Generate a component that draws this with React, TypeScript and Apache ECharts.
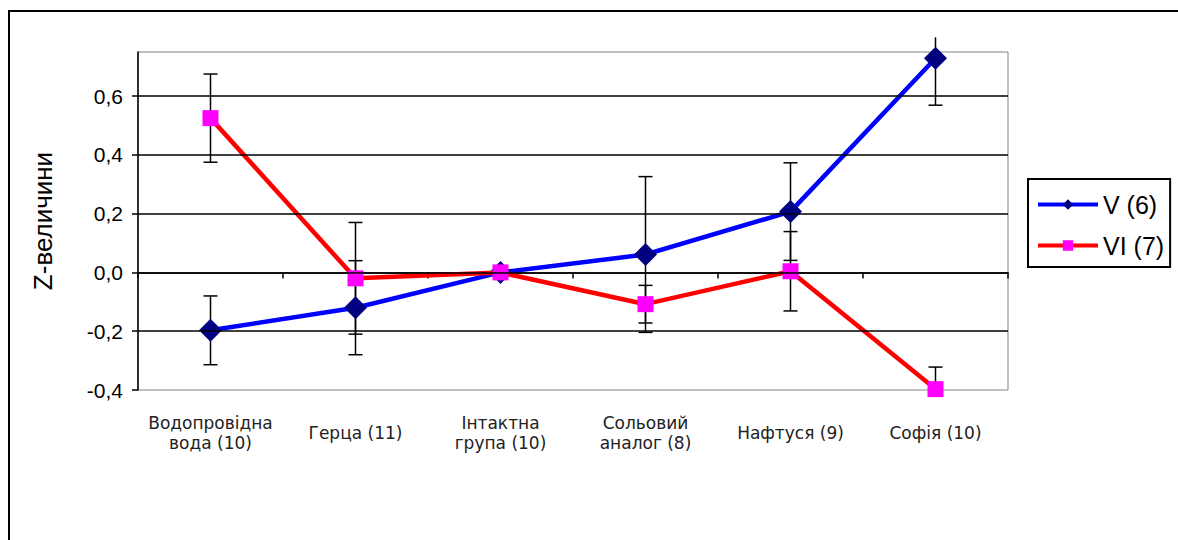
import React, { useEffect, useRef } from "react";
import * as echarts from "echarts";

const categories = [
  "Водопровідна\nвода (10)",
  "Герца (11)",
  "Інтактна\nгрупа (10)",
  "Сольовий\nаналог (8)",
  "Нафтуся (9)",
  "Софія (10)",
];
const seriesNames = ["V (6)", "VI (7)"];
const vValues = [-0.197, -0.12, 0, 0.061, 0.207, 0.729];
const vErrors = [0.117, 0.16, 0, 0.265, 0.166, 0.16];
const viValues = [0.525, -0.02, 0, -0.108, 0.004, -0.397];
const viErrors = [0.15, 0.19, 0, 0.064, 0.135, 0.075];
const yTicks = [-0.4, -0.2, 0, 0.2, 0.4, 0.6];
const yMin = -0.4;
const yMax = 0.75;
const errorClipTop = 0.8;

function errorData(values: number[], errs: number[]) {
  return values.map((v, i) => [i, v - errs[i], v + errs[i]]);
}

export default function App() {
  const ref = useRef<HTMLDivElement>(null);
  useEffect(() => {
    if (!ref.current) return;
    const chart = echarts.init(ref.current, null, { renderer: "svg" });

    const renderErr = (params: any, api: any) => {
      const idx = api.value(0);
      const lowV = api.value(1);
      const highV = api.value(2);
      if (highV - lowV < 1e-6) return { type: "group", children: [] };
      const lo = Math.max(lowV, yMin);
      const hi = Math.min(highV, errorClipTop);
      const pLo = api.coord([idx, lo]);
      const pHi = api.coord([idx, hi]);
      const x = pLo[0];
      const cap = 7;
      const style = { stroke: "#000", lineWidth: 1.5 };
      const children: any[] = [
        { type: "line", shape: { x1: x, y1: pLo[1], x2: x, y2: pHi[1] }, style },
      ];
      if (lowV >= yMin)
        children.push({ type: "line", shape: { x1: x - cap, y1: pLo[1], x2: x + cap, y2: pLo[1] }, style });
      if (highV <= errorClipTop)
        children.push({ type: "line", shape: { x1: x - cap, y1: pHi[1], x2: x + cap, y2: pHi[1] }, style });
      return { type: "group", children };
    };

    const fmt = (v: number) => v.toFixed(1).replace(".", ",").replace("-0,0", "0,0");

    chart.setOption({
      animation: false,
      backgroundColor: "#fff",
      grid: {
        left: 138,
        top: 52,
        width: 870,
        height: 338,
        show: true,
        borderColor: "#808080",
        borderWidth: 1,
        backgroundColor: "transparent",
      },
      graphic: [
        {
          type: "rect",
          shape: { x: 9, y: 11, width: 1300, height: 700 },
          style: { fill: "none", stroke: "#000", lineWidth: 2 },
          silent: true,
        },
      ],
      legend: {
        orient: "vertical",
        left: 1028,
        top: 179,
        padding: [13, 6, 9, 8],
        width: 145,
        itemWidth: 60,
        itemHeight: 13,
        itemGap: 16,
        borderColor: "#000",
        borderWidth: 2,
        lineStyle: { width: 4 },
        textStyle: {
          fontFamily: "Liberation Sans",
          fontSize: 25,
          color: "#000",
          lineHeight: 24,
        },
        data: seriesNames,
      },
      xAxis: {
        type: "category",
        data: categories,
        boundaryGap: true,
        axisLine: { lineStyle: { color: "#000", width: 1.5 } },
        axisTick: { show: true, length: 6, lineStyle: { color: "#000", width: 1.5 } },
        axisLabel: {
          fontFamily: "DejaVu Sans",
          fontSize: 17,
          lineHeight: 20,
          color: "#222",
          margin: 43,
          verticalAlign: "middle",
          interval: 0,
        },
        splitLine: { show: false },
      },
      yAxis: {
        type: "value",
        min: yMin,
        max: yMax,
        interval: 0.2,
        name: "Z-величини",
        nameLocation: "middle",
        nameRotate: 90,
        nameGap: 82,
        nameTextStyle: { fontFamily: "Liberation Sans", fontSize: 26, color: "#000" },
        axisLine: { show: true, lineStyle: { color: "#000", width: 1.5 } },
        axisTick: {
          show: true,
          length: 6,
          lineStyle: { color: "#000", width: 1.5 },
          customValues: yTicks,
        },
        axisLabel: {
          fontFamily: "Liberation Sans",
          fontSize: 21,
          color: "#000",
          margin: 15,
          customValues: yTicks,
          formatter: (v: number) => fmt(v),
        },
        splitLine: { show: false },
      },
      series: [
        {
          type: "custom",
          name: "gridlines",
          silent: true,
          z: 0,
          data: [],
          renderItem: () => null,
          markLine: {
            silent: true,
            symbol: ["none", "none"],
            label: { show: false },
            lineStyle: { color: "#000", width: 1.5, type: "solid" },
            data: yTicks.filter((t) => t > yMin).map((t) => ({ yAxis: t })),
          },
        },
        {
          type: "custom",
          name: "errV",
          silent: true,
          z: 1,
          clip: false,
          data: errorData(vValues, vErrors),
          renderItem: renderErr,
        },
        {
          type: "custom",
          name: "errVI",
          silent: true,
          z: 1,
          clip: false,
          data: errorData(viValues, viErrors),
          renderItem: renderErr,
        },
        {
          type: "line",
          name: seriesNames[0],
          data: vValues,
          z: 3,
          symbol: "diamond",
          symbolSize: 23,
          lineStyle: { color: "#0000ff", width: 4.5 },
          itemStyle: { color: "#000080" },
          showAllSymbol: true,
        },
        {
          type: "line",
          name: seriesNames[1],
          data: viValues,
          z: 4,
          symbol: "rect",
          symbolSize: 16,
          lineStyle: { color: "#ff0000", width: 4.5 },
          itemStyle: { color: "#ff00ff" },
          showAllSymbol: true,
        },
      ],
    });
    return () => chart.dispose();
  }, []);
  return (
    <div
      ref={ref}
      style={{ position: "absolute", left: 0, top: 0, width: 1178, height: 540 }}
    />
  );
}
